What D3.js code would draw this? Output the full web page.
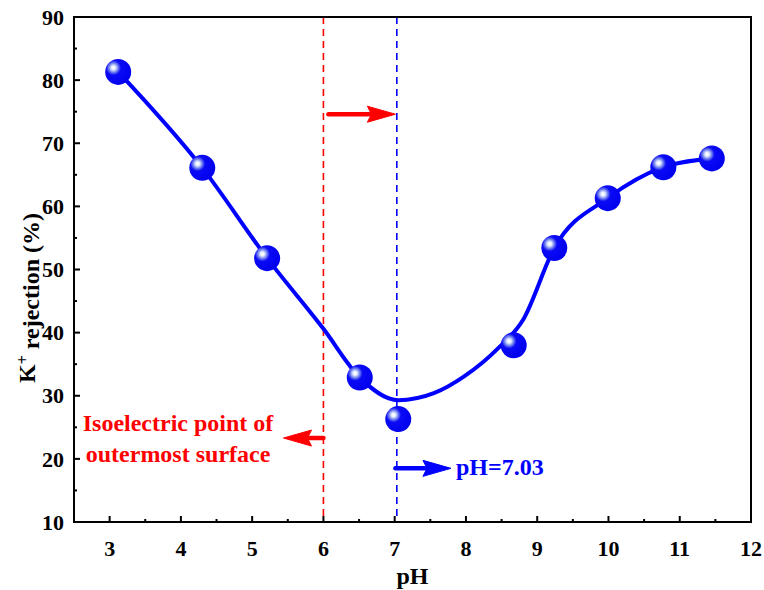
<!DOCTYPE html>
<html lang="en">
<head>
  <meta charset="UTF-8">
  <title>K+ rejection vs pH</title>
  <script src="https://d3js.org/d3.v7.min.js"></script>
  <style>
    body { margin: 0; background: #fff; }
    text { font-family: 'Liberation Serif', 'Times New Roman', serif; font-weight: bold; }
    .tick-label { font-size: 22px; fill: #000; }
    .axis-title { font-size: 24px; fill: #000; }
    .note-red { font-size: 24px; fill: #ff0000; }
    .note-blue { font-size: 24px; fill: #0000ff; }
  </style>
</head>
<body>
  <svg id="chart" width="764" height="590"></svg>

  <script>
    // measured points
    const phValues = [3.12, 4.3, 5.21, 6.51, 7.05, 8.67, 9.24, 9.99, 10.77, 11.45];
    const rejection = [81.3, 66.1, 51.8, 32.9, 26.3, 38.0, 53.4, 61.3, 66.2, 67.6];

    // fitted curve
    const fitPh = [3.12, 4.3, 5.21, 6.0, 6.51, 7.05, 7.55, 7.98, 8.45, 8.8, 9.24, 9.99, 10.77, 11.45];
    const fitRejection = [81.3, 66.1, 51.8, 40.6, 32.9, 29.3, 30.4, 33.1, 37.5, 42.0, 53.4, 61.3, 66.2, 67.6];

    const xTicks = [3, 4, 5, 6, 7, 8, 9, 10, 11, 12];
    const yTicks = [10, 20, 30, 40, 50, 60, 70, 80, 90];

    const isoPoint = 6.0;
    const pzcOuter = 7.03;

    const margin = { top: 17, right: 13, bottom: 68, left: 74 };
    const W = 764, H = 590;
    const width = W - margin.left - margin.right;
    const height = H - margin.top - margin.bottom;

    const svg = d3.select("#chart");
    const defs = svg.append("defs");

    const grad = defs.append("radialGradient")
      .attr("id", "ball")
      .attr("cx", "0.32").attr("cy", "0.34").attr("r", "0.75")
      .attr("fx", "0.32").attr("fy", "0.34");
    grad.append("stop").attr("offset", "0").attr("stop-color", "#ffffff");
    grad.append("stop").attr("offset", "0.1").attr("stop-color", "#e8f0ff");
    grad.append("stop").attr("offset", "0.22").attr("stop-color", "#7f8fef");
    grad.append("stop").attr("offset", "0.38").attr("stop-color", "#0a0af5");
    grad.append("stop").attr("offset", "1").attr("stop-color", "#0000ee");

    const g = svg.append("g")
      .attr("transform", `translate(${margin.left},${margin.top})`);

    const x = d3.scaleLinear().domain([2.5, 12]).range([0, width]);
    const y = d3.scaleLinear().domain([10, 90]).range([height, 0]);

    // dashed reference lines
    g.append("line")
      .attr("x1", x(isoPoint)).attr("x2", x(isoPoint))
      .attr("y1", 0).attr("y2", height)
      .attr("stroke", "#ff0000").attr("stroke-width", 1.6)
      .attr("stroke-dasharray", "7,5");
    g.append("line")
      .attr("x1", x(pzcOuter)).attr("x2", x(pzcOuter))
      .attr("y1", 0).attr("y2", height)
      .attr("stroke", "#0000ff").attr("stroke-width", 1.6)
      .attr("stroke-dasharray", "7,5");

    // arrows
    function arrow(x0, x1, yv, color) {
      const px0 = x(x0), px1 = x(x1), py = y(yv);
      const dir = Math.sign(px1 - px0);
      const headLen = 28, headHalf = 8;
      g.append("line")
        .attr("x1", px0).attr("x2", px1 - dir * headLen + dir * 2)
        .attr("y1", py).attr("y2", py)
        .attr("stroke", color).attr("stroke-width", 4.5)
        .attr("stroke-linecap", "round");
      g.append("path")
        .attr("d", `M${px1},${py} L${px1 - dir * headLen},${py - headHalf} L${px1 - dir * (headLen - 4)},${py} L${px1 - dir * headLen},${py + headHalf} Z`)
        .attr("fill", color).attr("stroke", color).attr("stroke-linejoin", "round");
    }
    arrow(6.07, 7.01, 74.6, "#ff0000");
    arrow(6.0, 5.44, 23.3, "#ff0000");
    arrow(7.01, 7.79, 18.5, "#0000ff");

    // fitted curve
    const line = d3.line()
      .x((d, i) => x(fitPh[i]))
      .y((d, i) => y(fitRejection[i]))
      .curve(d3.curveMonotoneX);
    g.append("path")
      .datum(fitPh)
      .attr("d", line)
      .attr("fill", "none")
      .attr("stroke", "#0000ff")
      .attr("stroke-width", 4);

    // points
    g.selectAll("circle.pt")
      .data(phValues)
      .enter()
      .append("circle")
      .attr("class", "pt")
      .attr("cx", d => x(d))
      .attr("cy", (d, i) => y(rejection[i]))
      .attr("r", 13)
      .attr("fill", "url(#ball)");

    // frame
    g.append("rect")
      .attr("width", width).attr("height", height)
      .attr("fill", "none").attr("stroke", "#000").attr("stroke-width", 2);

    // x ticks
    const xMinor = xTicks.slice(0, -1).map(v => v + 0.5);
    g.selectAll(".xmaj").data(xTicks).enter().append("line")
      .attr("x1", d => x(d)).attr("x2", d => x(d))
      .attr("y1", height).attr("y2", height - 6)
      .attr("stroke", "#000").attr("stroke-width", 2);
    g.selectAll(".xmin").data(xMinor).enter().append("line")
      .attr("x1", d => x(d)).attr("x2", d => x(d))
      .attr("y1", height).attr("y2", height - 3)
      .attr("stroke", "#000").attr("stroke-width", 2);
    g.selectAll(".xlab").data(xTicks).enter().append("text")
      .attr("class", "tick-label")
      .attr("x", d => x(d)).attr("y", height + 34)
      .attr("text-anchor", "middle")
      .text(d => d);

    // y ticks
    const yMinor = yTicks.slice(0, -1).map(v => v + 5);
    g.selectAll(".ymaj").data(yTicks).enter().append("line")
      .attr("x1", 0).attr("x2", 6)
      .attr("y1", d => y(d)).attr("y2", d => y(d))
      .attr("stroke", "#000").attr("stroke-width", 2);
    g.selectAll(".ymin").data(yMinor).enter().append("line")
      .attr("x1", 0).attr("x2", 3)
      .attr("y1", d => y(d)).attr("y2", d => y(d))
      .attr("stroke", "#000").attr("stroke-width", 2);
    g.selectAll(".ylab").data(yTicks).enter().append("text")
      .attr("class", "tick-label")
      .attr("x", -10).attr("y", d => y(d)).attr("dy", "0.35em")
      .attr("text-anchor", "end")
      .text(d => d);

    // axis titles
    g.append("text")
      .attr("class", "axis-title")
      .attr("x", x(7.25)).attr("y", height + 62)
      .attr("text-anchor", "middle")
      .text("pH");

    const yt = g.append("text")
      .attr("class", "axis-title")
      .attr("transform", `translate(${-39},${281}) rotate(-90)`)
      .attr("text-anchor", "middle");
    yt.append("tspan").text("K");
    yt.append("tspan").attr("dy", "-0.45em").style("font-size", "16px").text("+");
    yt.append("tspan").attr("dy", "0.45em").text(" rejection (%)");

    // annotations
    g.append("text").attr("class", "note-red")
      .attr("x", x(3.96)).attr("y", y(25.7)).attr("dy", "0.35em")
      .attr("text-anchor", "middle")
      .text("Isoelectric point of");
    g.append("text").attr("class", "note-red")
      .attr("x", x(3.96)).attr("y", y(20.9)).attr("dy", "0.35em")
      .attr("text-anchor", "middle")
      .text("outermost surface");
    g.append("text").attr("class", "note-blue")
      .attr("x", x(7.86)).attr("y", y(18.8)).attr("dy", "0.35em")
      .text("pH=7.03");
  </script>
</body>
</html>
